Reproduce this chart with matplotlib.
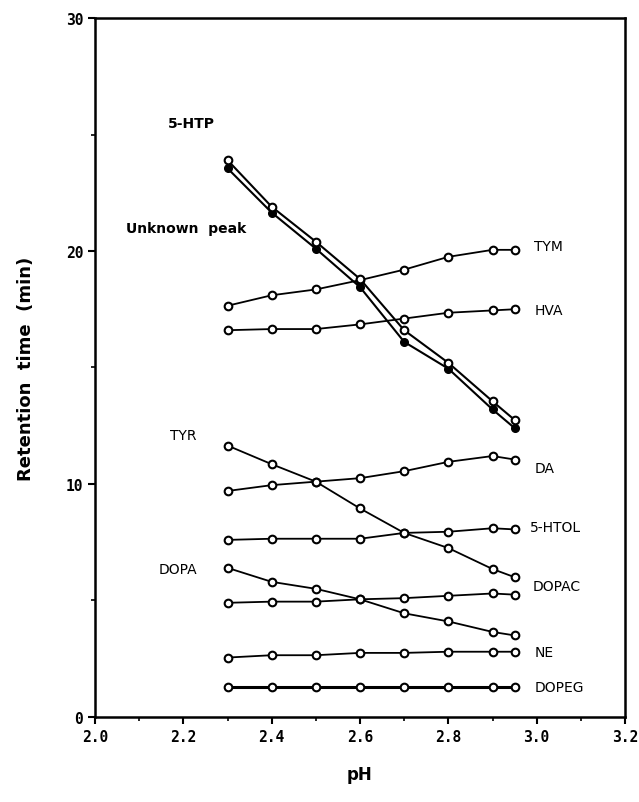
import numpy as np
import matplotlib
matplotlib.use('Agg')
import matplotlib.pyplot as plt
from matplotlib.ticker import MultipleLocator, FormatStrFormatter

# pH values where retention times were measured
ph = [2.3, 2.4, 2.5, 2.6, 2.7, 2.8, 2.9, 2.95]

# Retention times (min)
htp = [23.9, 21.9, 20.4, 18.8, 16.6, 15.2, 13.55, 12.75]
unknown = [23.55, 21.65, 20.1, 18.45, 16.1, 14.95, 13.2, 12.4]
tym = [17.65, 18.1, 18.35, 18.75, 19.2, 19.75, 20.05, 20.05]
hva = [16.6, 16.65, 16.65, 16.85, 17.1, 17.35, 17.45, 17.5]
tyr = [11.65, 10.85, 10.1, 8.95, 7.9, 7.25, 6.35, 6.0]
da = [9.7, 9.95, 10.1, 10.25, 10.55, 10.95, 11.2, 11.05]
htol = [7.6, 7.65, 7.65, 7.65, 7.9, 7.95, 8.1, 8.05]
dopa = [6.4, 5.8, 5.5, 5.05, 4.45, 4.1, 3.65, 3.5]
dopac = [4.9, 4.95, 4.95, 5.05, 5.1, 5.2, 5.3, 5.25]
ne = [2.55, 2.65, 2.65, 2.75, 2.75, 2.8, 2.8, 2.8]
dopeg = [1.3, 1.3, 1.3, 1.3, 1.3, 1.3, 1.3, 1.3]

open_series = [tym, hva, tyr, da, htol, dopa, dopac, ne]

fig = plt.figure(figsize=(6.39, 8.03), dpi=100)
ax = fig.add_axes([0.1487, 0.1059, 0.8294, 0.8704])

mk = dict(marker='o', markersize=5.5, markerfacecolor='white',
          markeredgecolor='black', markeredgewidth=1.5, color='black')

# 5-HTP / unknown peak pair
ax.plot(ph, unknown, linewidth=1.5, zorder=3, marker='o', markersize=5.5,
        markerfacecolor='black', markeredgecolor='black', color='black')
ax.plot(ph, htp, linewidth=1.5, zorder=4, **mk)

for s in open_series:
    ax.plot(ph, s, linewidth=1.3, zorder=3, **mk)
ax.plot(ph, dopeg, linewidth=2.2, zorder=3, **mk)

# compound labels
bold = dict(fontsize=10, fontweight='bold', va='center', ha='left')
norm = dict(fontsize=10, va='center', ha='left')
ax.text(2.165, 25.5, '5-HTP', **bold)
ax.text(2.07, 21.0, 'Unknown  peak', **bold)
ax.text(2.995, 20.2, 'TYM', **norm)
ax.text(2.995, 17.45, 'HVA', **norm)
ax.text(2.17, 12.1, 'TYR', **norm)
ax.text(2.995, 10.7, 'DA', **norm)
ax.text(2.985, 8.15, '5-HTOL', **norm)
ax.text(2.145, 6.35, 'DOPA', **norm)
ax.text(2.99, 5.6, 'DOPAC', **norm)
ax.text(2.995, 2.8, 'NE', **norm)
ax.text(2.995, 1.3, 'DOPEG', **norm)

ax.set_xlim(2.0, 3.2)
ax.set_ylim(0, 30)
ax.xaxis.set_major_locator(MultipleLocator(0.2))
ax.xaxis.set_minor_locator(MultipleLocator(0.1))
ax.yaxis.set_major_locator(MultipleLocator(10))
ax.yaxis.set_minor_locator(MultipleLocator(5))
ax.xaxis.set_major_formatter(FormatStrFormatter('%.1f'))
ax.tick_params(which='major', direction='out', length=5, width=1.5)
ax.tick_params(which='minor', direction='out', length=3, width=1.2)
for lab in ax.get_xticklabels() + ax.get_yticklabels():
    lab.set_fontfamily('DejaVu Sans Mono')
    lab.set_fontweight('bold')
    lab.set_fontsize(10.5)
for sp in ax.spines.values():
    sp.set_linewidth(1.8)

fig.text(0.563, 0.035, 'pH', fontsize=12, fontweight='bold', ha='center', va='center')
ax.set_ylabel('Retention  time  (min)', fontsize=13, fontweight='bold', labelpad=22)

fig.savefig('out.png', dpi=100)
